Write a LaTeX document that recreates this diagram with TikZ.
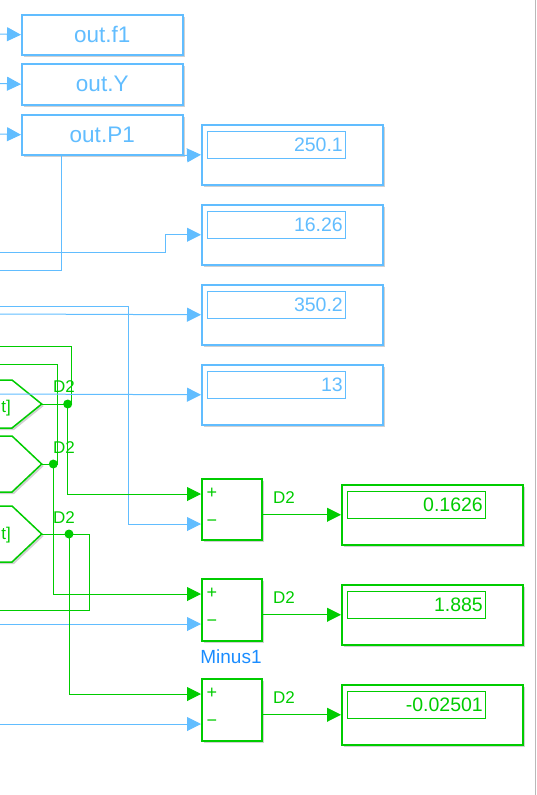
\documentclass[tikz,border=0pt]{standalone}
\usepackage{fontspec}
\setmainfont{Liberation Sans}
\usetikzlibrary{arrows.meta,shadows}
\definecolor{sblue}{HTML}{61BDFF}
\definecolor{sgreen}{HTML}{00CC00}
\definecolor{mblue}{HTML}{1A8CFF}
\begin{document}
\begin{tikzpicture}[x=1pt,y=-1pt,
  shd/.style={drop shadow={shadow xshift=2pt,shadow yshift=-2pt,fill=black,opacity=0.18}},
  blk/.style={draw=#1,line width=1.5pt,fill=white,shd,anchor=north west,inner sep=0pt},
  inbox/.style={draw=#1,line width=1pt,anchor=north west,inner sep=0pt,minimum width=138pt,minimum height=27pt},
  ttl/.style={text=sblue,font=\fontsize{22.5}{26}\selectfont,minimum width=161pt,minimum height=40pt},
  dsp/.style={minimum width=181pt,minimum height=60pt},
  sumb/.style={blk=sgreen,minimum width=60pt,minimum height=61pt},
  val/.style={anchor=east,inner sep=0pt,text=#1,font=\fontsize{19.5}{23}\selectfont},
  lbl/.style={text=sgreen,font=\fontsize{17}{20}\selectfont,inner sep=0pt},
  sgn/.style={text=sgreen,font=\fontsize{18}{21}\selectfont,inner sep=0pt},
  tip/.style={-{Triangle[length=14pt,width=14pt]}},
  bl/.style={draw=sblue,line width=1pt},
  gl/.style={draw=sgreen,line width=1pt},
  hexs/.style={draw=sgreen,line width=1.5pt,fill=white,shd},
  dot/.style={fill=sgreen}
]
\useasboundingbox (0,0) rectangle (536,795);
\clip (0,0) rectangle (536,795);
% right border
\draw[gray!55,line width=1pt] (535.5,-1) -- (535.5,796);

% To File blocks
\node[blk=sblue,ttl] (f1) at (21,14) {out.f1};
\node[blk=sblue,ttl,minimum height=41pt] (Y) at (21,63) {out.Y};
\node[blk=sblue,ttl] (P1) at (21,114) {out.P1};

% blue displays
\node[blk=sblue,dsp] (d1) at (201,124) {};
\node[inbox=sblue] (d1i) at (207,131) {};
\node[val=sblue] (d1v) at ([xshift=-3pt]d1i.east) {250.1};
\node[blk=sblue,dsp] (d2) at (201,204) {};
\node[inbox=sblue] (d2i) at (207,211) {};
\node[val=sblue] (d2v) at ([xshift=-3pt]d2i.east) {16.26};
\node[blk=sblue,dsp] (d3) at (201,284) {};
\node[inbox=sblue] (d3i) at (207,291) {};
\node[val=sblue] (d3v) at ([xshift=-3pt]d3i.east) {350.2};
\node[blk=sblue,dsp] (d4) at (201,364) {};
\node[inbox=sblue] (d4i) at (207,371) {};
\node[val=sblue] (d4v) at ([xshift=-3pt]d4i.east) {13};

% sum blocks
\node[sumb] (s1) at (201,478) {};
\node[sumb,minimum height=62pt] (s2) at (201,578) {};
\node[sumb,minimum height=62pt] (s3) at (201,678) {};
\foreach \s/\y in {s1/494,s2/594,s3/694}{
  \node[sgn] (\s plus) at (212,\y-1) {+};
  \node[sgn] (\s minus) at (212,\y+29) {\textminus};
}
\node[text=mblue,font=\fontsize{19}{22}\selectfont,inner sep=0pt] (m1) at (231,657) {Minus1};

% green displays
\node[blk=sgreen,dsp] (g1) at (341,484) {};
\node[inbox=sgreen] (g1i) at (347,491) {};
\node[val=sgreen] (g1v) at ([xshift=-3pt]g1i.east) {0.1626};
\node[blk=sgreen,dsp] (g2) at (341,584) {};
\node[inbox=sgreen] (g2i) at (347,591) {};
\node[val=sgreen] (g2v) at ([xshift=-3pt]g2i.east) {1.885};
\node[blk=sgreen,dsp] (g3) at (341,684) {};
\node[inbox=sgreen] (g3i) at (347,691) {};
\node[val=sgreen] (g3v) at ([xshift=-3pt]g3i.east) {-0.02501};

% hexagon (From) blocks, cut at the left edge
\draw[hexs] (-5,380) -- (12,380) -- (41.7,404) -- (12,428) -- (-5,428);
\draw[hexs] (-5,436) -- (12,436) -- (41.7,464) -- (12,492) -- (-5,492);
\draw[hexs] (-5,506) -- (12,506) -- (41.7,534) -- (12,562) -- (-5,562);
\coordinate (h1) at (41.7,404);
\coordinate (h2) at (41.7,464);
\coordinate (h3) at (41.7,534);
\node[text=sgreen,font=\fontsize{17}{20}\selectfont,inner sep=0pt,anchor=east] (h1t) at (11,408) {t]};
\node[text=sgreen,font=\fontsize{17}{20}\selectfont,inner sep=0pt,anchor=east] (h3t) at (11,535) {t]};

% left-edge entry points
\coordinate (e1) at (0,34);
\coordinate (e2) at (0,83.5);
\coordinate (e3) at (0,134);
\coordinate (e4) at (0,252);
\coordinate (e5) at (0,270);
\coordinate (e6) at (0,306);
\coordinate (e7) at (0,314);
\coordinate (e8) at (0,346);
\coordinate (e9) at (0,364);
\coordinate (e10) at (0,394);
\coordinate (e11) at (0,610);
\coordinate (e12) at (0,624);
\coordinate (e13) at (0,724);

% sum input ports
\coordinate (s1p) at (201,494);
\coordinate (s1m) at (201,524);
\coordinate (s2p) at (201,594);
\coordinate (s2m) at (201,624);
\coordinate (s3p) at (201,694);
\coordinate (s3m) at (201,724);

% blue connectors
\draw[bl,tip] (e1) -- (f1.west);
\draw[bl,tip] (e2) -- (Y.west);
\draw[bl,tip] (e3) -- (P1.west);
\draw[bl,tip] (P1.south east) -- (d1.west);
\draw[bl] (e5) -| ([xshift=40pt]P1.south west);
\draw[bl,tip] (e4) -- (165,252) |- (d2.west);
\draw[bl,tip] (e7) -- (d3.west);
\draw[bl,tip] (e6) -- (128,306) |- (s1m);
\draw[bl,tip] (e12) -- (s2m);
\draw[bl,tip] (e13) -- (s3m);

% green connectors
\coordinate (j1) at (67.7,404);
\coordinate (j2) at (53.3,464);
\coordinate (j3) at (69,534);
\draw[gl] (h1) -- (71.7,404) |- (e8);
\draw[gl] (h2) -- (57.7,464) |- (e9);
\draw[gl] (h3) -- (89.3,534) |- (e11);
\draw[gl,tip] (j1) |- (s1p);
\draw[gl,tip] (j2) |- (s2p);
\draw[gl,tip] (j3) |- (s3p);
\fill[dot] (j1) circle (4.5pt);
\fill[dot] (j2) circle (4.5pt);
\fill[dot] (j3) circle (4.5pt);
\draw[bl,tip] (e10) -- (d4.west);

\draw[gl,tip] (s1.east |- g1.west) -- (g1.west);
\draw[gl,tip] (s2.east |- g2.west) -- (g2.west);
\draw[gl,tip] (s3.east |- g3.west) -- (g3.west);

% signal labels
\node[lbl] (l1) at (64,387) {D2};
\node[lbl] (l2) at (64,448) {D2};
\node[lbl] (l3) at (64,518) {D2};
\node[lbl] (l4) at (284,498) {D2};
\node[lbl] (l5) at (284,598) {D2};
\node[lbl] (l6) at (284,698) {D2};
\end{tikzpicture}
\end{document}
